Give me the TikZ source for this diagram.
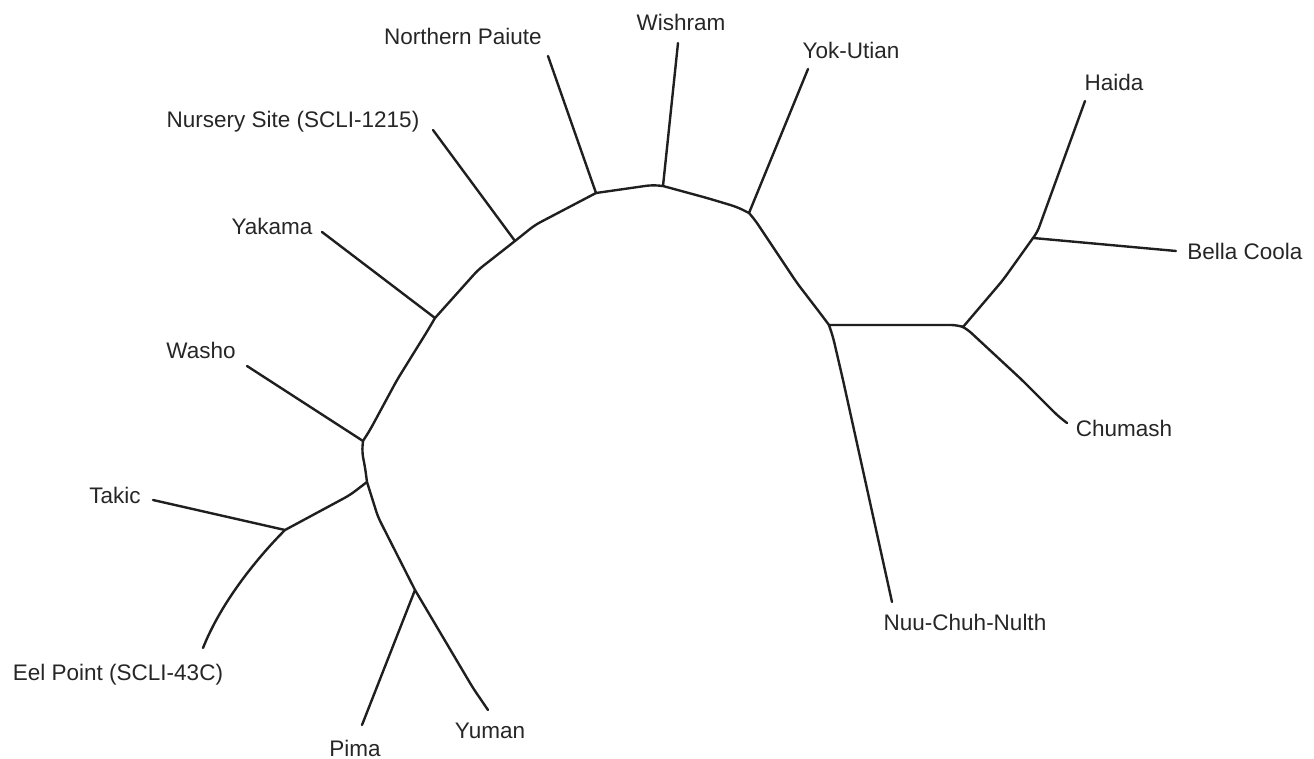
\documentclass[tikz,border=0pt]{standalone}
\usepackage{fontspec}
\setmainfont{Liberation Sans}
\begin{document}
\begin{tikzpicture}[x=1pt,y=-1pt,
  branch/.style={line width=2.4pt,color=black!88,line join=round,line cap=round,rounded corners=6pt},
  lbl/.style={anchor=base,inner sep=0pt,font=\fontsize{22.5}{26}\selectfont,text=black!85}]
\useasboundingbox (0,0) rectangle (1314,759);
% internal nodes
\coordinate (nY) at (435,318);
\coordinate (nN) at (515,241);
\coordinate (nP) at (596,193);
\coordinate (nW) at (663,186);
\coordinate (nK) at (749,213);
\coordinate (nC) at (829,325);
\coordinate (nR) at (963,327);
\coordinate (nH) at (1033,238);
\coordinate (nWa) at (363,441);
\coordinate (nT1) at (367,482);
\coordinate (nT) at (285,530);
\coordinate (nPY) at (415,590);
% leaf ends
\coordinate (lYak) at (322,232);
\coordinate (lNur) at (433,130);
\coordinate (lPai) at (548,56);
\coordinate (lWis) at (678,43);
\coordinate (lYok) at (808,69);
\coordinate (lHai) at (1085,101);
\coordinate (lBel) at (1176,251);
\coordinate (lChu) at (1067,423);
\coordinate (lNuu) at (892,602);
\coordinate (lYum) at (488,710);
\coordinate (lPim) at (362,725);
\coordinate (lEel) at (203,648);
\coordinate (lTak) at (153,500);
\coordinate (lWas) at (247,366);
% labels
\node[lbl] (tNur) at (293,128) {Nursery Site (SCLI-1215)};
\node[lbl] (tPai) at (463,45) {Northern Paiute};
\node[lbl] (tWis) at (681,31) {Wishram};
\node[lbl] (tYok) at (851,59) {Yok-Utian};
\node[lbl] (tHai) at (1114,91) {Haida};
\node[lbl] (tBel) at (1245,260) {Bella Coola};
\node[lbl] (tChu) at (1124,436) {Chumash};
\node[lbl] (tNuu) at (965,630) {Nuu-Chuh-Nulth};
\node[lbl] (tYum) at (490,738) {Yuman};
\node[lbl] (tPim) at (355,756) {Pima};
\node[lbl] (tEel) at (118,680) {Eel Point (SCLI-43C)};
\node[lbl] (tTak) at (115,503) {Takic};
\node[lbl] (tYak) at (272,235) {Yakama};
\node[lbl] (tWas) at (201,358) {Washo};
% backbone
\draw[branch] (nWa) -- (370,430) -- (397,380) -- (428,330) -- (nY);
\draw[branch] (nY) -- (478,270) -- (nN);
\draw[branch] (nN) -- (535,225) -- (nP);
\draw[branch] (nP) -- (652,185) -- (nW);
\draw[branch] (nW) -- (707,198) -- (737,207) -- (nK);
\draw[branch] (nK) -- (755,220) -- (797,283) -- (820,313) -- (nC);
\draw[branch] (nC) -- (957,325) -- (nR);
\draw[branch] (nR) -- (1003,280) -- (nH);
\draw[branch] (nH) -- (1037,233) -- (lHai);
\draw[branch] (nH) -- (lBel);
\draw[branch] (nR) -- (967,329) -- (1022,380) -- (1058,416) -- (lChu);
\draw[branch] (nC) -- (833,337) -- (843,380) -- (lNuu);
\draw[branch] (nWa) -- (362,452) -- (365,467) -- (nT1);
\draw[branch] (nT1) -- (350,495) -- (nT);
\draw[branch] (nT) -- (lTak);
\draw[branch] (nT) .. controls (260,555) and (222,600) .. (lEel);
\draw[branch] (nT1) -- (378,517) -- (nPY);
\draw[branch] (nPY) -- (lPim);
\draw[branch] (nPY) -- (473,688) -- (lYum);
% leaves from backbone
\draw[branch] (nY) -- (lYak);
\draw[branch] (nN) -- (lNur);
\draw[branch] (nP) -- (lPai);
\draw[branch] (nW) -- (lWis);
\draw[branch] (nK) -- (lYok);
\draw[branch] (nWa) -- (lWas);
\end{tikzpicture}
\end{document}
